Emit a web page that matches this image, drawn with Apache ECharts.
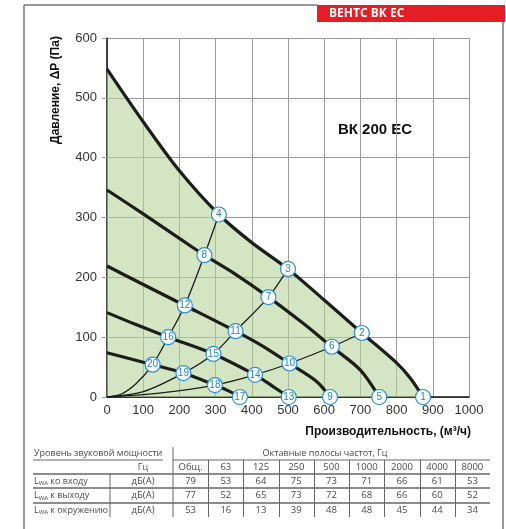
<!DOCTYPE html>
<html>
<head>
<meta charset="utf-8">
<script src="https://cdn.jsdelivr.net/npm/echarts@6/dist/echarts.min.js"></script>
<style>
  html, body { margin: 0; padding: 0; background: #fff; }
  #chart { width: 506px; height: 529px; }
</style>
</head>
<body>
<div id="chart"></div>
<script>
// Fan curves at the five speed settings: [airflow m3/h, pressure Pa]
const curveMax = [[0,548],[100,460],[200,378],[309,305],[400,258],[500,214],[600,162],[704,107],[800,57],[837,32],[873,0]];
const curveB = [[0,346],[100,306],[200,265],[269,237],[350,207],[446,167],[540,124],[621,84],[700,45],[752,0]];
const curveC = [[0,219],[100,188],[215,153],[355,110],[430,85],[504,56],[579,26],[616,0]];
const curveD = [[0,141],[80,121],[169,100],[294,72],[409,37],[460,17],[502,0]];
const curveE = [[0,74],[126,54],[211,40],[298,20],[340,9],[367,0]];

// Network characteristics running from the origin
const network1 = [[0,0],[40,5],[80,22],[126,54],[169,100],[215,153],[269,237],[309,305]];
const network2 = [[0,0],[100,9],[211,40],[294,72],[355,110],[446,167],[500,214]];
const network3 = [[0,0],[150,7],[298,20],[409,37],[504,56],[621,84],[704,107]];

// Numbered operating points: [airflow, pressure, number]
const operatingPoints = [
  [873,0,'1'],[704,107,'2'],[500,214,'3'],[309,305,'4'],
  [752,0,'5'],[621,84,'6'],[446,167,'7'],[269,237,'8'],
  [616,0,'9'],[504,56,'10'],[355,110,'11'],[215,153,'12'],
  [502,0,'13'],[409,37,'14'],[294,72,'15'],[169,100,'16'],
  [367,0,'17'],[298,20,'18'],[211,40,'19'],[126,54,'20']
];

const xTicks = { min: 0, max: 1000, step: 100 };
const yTicks = { min: 0, max: 600, step: 100 };

// Sound power table
const bandLabels = ['Общ.','63','125','250','500','1000','2000','4000','8000'];
const soundInlet = [79,53,64,75,73,71,66,61,53];
const soundOutlet = [77,52,65,73,72,68,66,60,52];
const soundAmbient = [53,16,13,39,48,48,45,44,34];
const rowNames = ['ко входу','к выходу','к окружению'];

const chart = echarts.init(document.getElementById('chart'), null, { renderer: 'canvas' });

const fanLine = (data, extra) => Object.assign({
  type: 'line', data, smooth: 0.3, symbol: 'none', silent: true,
  lineStyle: { color: '#1d1d1b', width: 3.2 }, z: 4
}, extra || {});
const netLine = (data) => ({
  type: 'line', data, smooth: 0.3, symbol: 'none', silent: true,
  lineStyle: { color: '#1d1d1b', width: 1.3 }, z: 3
});

// ---- table graphics ----
const tbl = [];
const txtColor = '#4a4a4a';
const tFont = '"Open Sans", sans-serif';
const fs = 9;
const colX0 = 173, colX1 = 490;
const colW = (colX1 - colX0) / bandLabels.length;
const rowY = [460, 474, 488, 503, 517];
const line = (x1, y1, x2, y2, w) => tbl.push({
  type: 'line', shape: { x1, y1, x2, y2 }, silent: true,
  style: { stroke: '#666', lineWidth: w || 1 }
});
const text = (x, y, str, align, extra) => tbl.push({
  type: 'text', x, y, silent: true,
  style: Object.assign({ text: str, fill: txtColor, font: fs + 'px ' + tFont, align: align || 'center', verticalAlign: 'middle' }, extra || {})
});

line(33, rowY[0], 163, rowY[0]);
line(colX0, rowY[0], colX1, rowY[0]);
line(33, rowY[1], colX1, rowY[1], 1.4);
line(33, rowY[2], colX1, rowY[2], 1.4);
line(33, rowY[3], colX1, rowY[3], 1.4);
line(colX0, 447, colX0, rowY[4]);
line(110, rowY[1], 110, rowY[4]);
for (let i = 1; i < bandLabels.length; i++) {
  const x = Math.round(colX0 + colW * i) + 0.5;
  line(x, rowY[0], x, rowY[4]);
}
text(34, 453, 'Уровень звуковой мощности', 'left');
text(325, 453, 'Октавные полосы частот, Гц', 'center');
text(143, 467, 'Гц', 'center');
bandLabels.forEach((b, i) => text(colX0 + colW * (i + 0.5), 467, b, 'center', { font: '9.5px ' + tFont }));
[soundInlet, soundOutlet, soundAmbient].forEach((row, r) => {
  const y = (rowY[r + 1] + rowY[r + 2]) / 2;
  tbl.push({
    type: 'text', x: 34, y, silent: true,
    style: {
      text: '{l|L}{s|WA}{t| ' + rowNames[r] + '}',
      verticalAlign: 'middle', align: 'left',
      rich: {
        l: { fill: txtColor, font: fs + 'px ' + tFont },
        s: { fill: txtColor, font: '6px ' + tFont, padding: [5, 0, 0, 0] },
        t: { fill: txtColor, font: fs + 'px ' + tFont }
      }
    }
  });
  text(143, y, 'дБ(А)', 'center', { font: '9.5px ' + tFont });
  row.forEach((v, i) => text(colX0 + colW * (i + 0.5), y, String(v), 'center', { font: '9.5px ' + tFont }));
});

const option = {
  animation: false,
  backgroundColor: '#ffffff',
  grid: { left: 107, top: 38, right: 37, bottom: 132, containLabel: false },
  xAxis: {
    type: 'value', min: xTicks.min, max: xTicks.max, interval: xTicks.step,
    axisLine: { show: true, onZero: false, lineStyle: { color: '#111', width: 1.5 } },
    axisTick: { show: false },
    axisLabel: { color: '#333', fontSize: 13, fontFamily: 'Arial, "Liberation Sans", sans-serif', margin: 7, formatter: v => String(v) },
    splitLine: { show: true, lineStyle: { color: '#9a9a9a', width: 1 } }
  },
  yAxis: {
    type: 'value', min: yTicks.min, max: yTicks.max, interval: yTicks.step,
    axisLine: { show: true, onZero: false, lineStyle: { color: '#111', width: 1.5 } },
    axisTick: { show: true, length: 5, lineStyle: { color: '#9a9a9a' } },
    axisLabel: { color: '#333', fontSize: 13, fontFamily: 'Arial, "Liberation Sans", sans-serif', margin: 10, formatter: v => String(v) },
    splitLine: { show: true, lineStyle: { color: '#9a9a9a', width: 1 } }
  },
  graphic: [
    // frame
    { type: 'line', shape: { x1: 24, y1: 5, x2: 317, y2: 5 }, style: { stroke: '#777', lineWidth: 1.5 }, silent: true },
    { type: 'line', shape: { x1: 24, y1: 5, x2: 24, y2: 529 }, style: { stroke: '#777', lineWidth: 1.5 }, silent: true },
    { type: 'line', shape: { x1: 503, y1: 22, x2: 503, y2: 529 }, style: { stroke: '#777', lineWidth: 1.5 }, silent: true },
    // header bar
    { type: 'rect', shape: { x: 317, y: 5, width: 188, height: 17 }, style: { fill: '#e31e24' }, silent: true },
    { type: 'text', x: 329, y: 14, silent: true,
      style: { text: 'ВЕНТС ВК ЕС', fill: '#fff', font: 'bold 12px "Open Sans", Arial, sans-serif', verticalAlign: 'middle' } },
    // model label
    { type: 'text', x: 375, y: 130, silent: true,
      style: { text: 'ВК 200 ЕС', fill: '#111', font: 'bold 15px Arial, "Liberation Sans", sans-serif', align: 'center', verticalAlign: 'middle' } },
    // axis names
    { type: 'text', x: 56, y: 90, rotation: Math.PI / 2, silent: true,
      style: { text: 'Давление, ΔР (Па)', fill: '#111', font: 'bold 12px Arial, "Liberation Sans", sans-serif', align: 'center', verticalAlign: 'middle' } },
    { type: 'text', x: 471, y: 432, silent: true,
      style: { text: 'Производительность, (м³/ч)', fill: '#111', font: 'bold 12px Arial, "Liberation Sans", sans-serif', align: 'right', verticalAlign: 'middle' } }
  ].concat(tbl),
  series: [
    fanLine(curveMax, { areaStyle: { color: '#b5d39a', opacity: 0.6, origin: 'start' }, z: 2 }),
    fanLine(curveB),
    fanLine(curveC),
    fanLine(curveD),
    fanLine(curveE),
    netLine(network1),
    netLine(network2),
    netLine(network3),
    {
      type: 'scatter', data: operatingPoints, symbol: 'circle', symbolSize: 15, z: 10, silent: true,
      itemStyle: { color: '#ffffff', borderColor: '#2a8fd6', borderWidth: 1.2, opacity: 1 },
      label: {
        show: true, position: 'inside', formatter: p => p.value[2],
        color: '#1f86d0', fontSize: 10, fontFamily: 'Arial, sans-serif',
        textBorderWidth: 0, textBorderColor: 'transparent', opacity: 1
      }
    }
  ]
};
chart.setOption(option);
</script>
</body>
</html>
